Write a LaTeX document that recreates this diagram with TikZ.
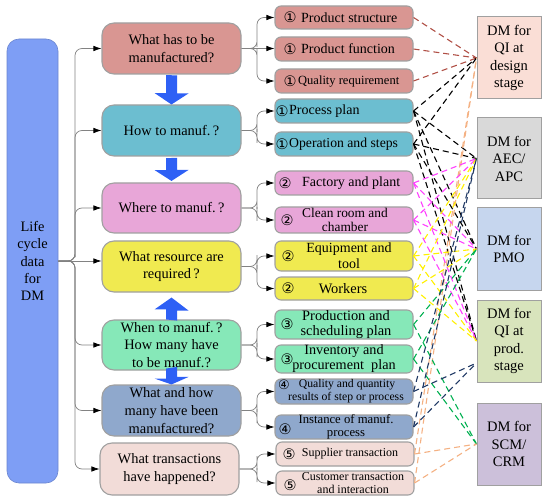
\documentclass[tikz,border=0pt]{standalone}
\usepackage{fontspec}
\setmainfont{Liberation Serif}
\newfontfamily\circf{DejaVu Sans}
\usetikzlibrary{arrows.meta,calc}
\definecolor{qone}{RGB}{217,150,146}
\definecolor{qtwo}{RGB}{108,190,208}
\definecolor{qthree}{RGB}{232,166,216}
\definecolor{qfour}{RGB}{240,234,80}
\definecolor{qfive}{RGB}{134,232,184}
\definecolor{qsix}{RGB}{143,168,204}
\definecolor{qseven}{RGB}{242,220,216}
\definecolor{lifecol}{RGB}{126,158,245}
\definecolor{dmone}{RGB}{250,222,214}
\definecolor{dmtwo}{RGB}{217,217,217}
\definecolor{dmthree}{RGB}{198,214,238}
\definecolor{dmfour}{RGB}{216,228,188}
\definecolor{dmfive}{RGB}{204,192,218}
\definecolor{bigarrow}{RGB}{46,96,245}
\definecolor{boxgray}{RGB}{160,160,160}
\definecolor{treegray}{RGB}{130,130,130}
\definecolor{lbrown}{RGB}{176,80,70}
\definecolor{lmag}{RGB}{255,64,255}
\definecolor{lyel}{RGB}{255,240,0}
\definecolor{lgreen}{RGB}{0,176,80}
\definecolor{lblue}{RGB}{31,56,100}
\definecolor{lpeach}{RGB}{244,177,131}
\begin{document}
\begin{tikzpicture}[x=1pt,y=-1pt,
  qbox/.style={draw=boxgray, line width=1.1pt, rounded corners=12pt, minimum width=139pt, minimum height=51pt, align=center, inner sep=0pt, font=\fontsize{14.4}{17.8}\selectfont},
  ibox/.style={draw=boxgray, line width=1.1pt, rounded corners=6pt, minimum width=138pt, minimum height=24pt, inner sep=0pt},
  dmbox/.style={draw=boxgray, line width=1pt, minimum width=64pt, minimum height=82pt, align=center, inner sep=0pt, font=\fontsize{14.5}{17.5}\selectfont},
  dig/.style={inner sep=0pt, font=\circf\fontsize{14.5}{14.5}\selectfont},
  itxt/.style={inner sep=0pt, align=center},
  tree/.style={draw=treegray, line width=0.7pt, rounded corners=7pt, -{Latex[length=8pt,width=5.5pt,color=black]}},
  dl/.style={dash pattern=on 6pt off 4pt, line width=1.1pt},
  barr/.style={fill=bigarrow}
]
\useasboundingbox (0,0) rectangle (550,503);
% life cycle box
\node[draw=lifecol!85!black, line width=0.6pt, fill=lifecol, rounded corners=12pt, minimum width=51pt, minimum height=444pt, align=center, inner sep=0pt, font=\fontsize{14.4}{17.3}\selectfont] (L) at (32.5,261) {Life\\cycle\\data\\for\\DM};
% question boxes
\node[qbox, fill=qone] (Q1) at (171.5,48.5) {What has to be\\manufactured?};
\node[qbox, fill=qtwo] (Q2) at (171.5,130.5) {How to manuf.\,?};
\node[qbox, fill=qthree, minimum height=50pt] (Q3) at (171.5,208) {Where to manuf.\,?};
\node[qbox, fill=qfour] (Q4) at (171.5,266.5) {What resource are\\required\,?};
\node[qbox, fill=qfive, minimum height=50pt] (Q5) at (171.5,345) {When to manuf.\,?\\How many have\\to be manuf.?};
\node[qbox, fill=qsix] (Q6) at (171.5,410.5) {What and how\\many have been\\manufactured?};
\node[qbox, fill=qseven, minimum height=52pt] (Q7) at (169.5,469) {What transactions\\have happened?};
% big blue arrows
\fill[barr] ($(Q1.south)+(-5.5,0.5)$) -- ++(0,18) -- ++(-11.5,0) -- (Q1.south |- Q2.north) -- ++(17,-11) -- ++(-11.5,0) -- ++(0,-18) -- cycle;
\fill[barr] ($(Q2.south)+(-5.5,1.5)$) -- ++(0,12) -- ++(-11.5,0) -- ($(Q2.south |- Q3.north)+(0,-1.5)$) -- ++(17,-11) -- ++(-11.5,0) -- ++(0,-12) -- cycle;
\fill[barr] ($(Q5.north)+(-5.5,0)$) -- ++(0,-10) -- ++(-11.5,0) -- ($(Q5.north |- Q4.south)+(0,5)$) -- ++(17,13) -- ++(-11.5,0) -- ++(0,10) -- cycle;
\fill[barr] ($(Q5.south)+(-5.5,-2)$) -- ++(0,10) -- ++(-11.5,0) -- ($(Q5.south |- Q6.north)$) -- ++(17,-7.5) -- ++(-11.5,0) -- ++(0,-10) -- cycle;
% items
\node[ibox, fill=qone, minimum height=23pt] (i1) at (344,17.5) {};
\node[dig] at (290,17.5) {①};
\node[itxt, anchor=west, font=\fontsize{14}{16}\selectfont] at (301,17.5) {Product structure};
\node[ibox, fill=qone] (i2) at (344,49) {};
\node[dig] at (290,49) {①};
\node[itxt, anchor=west, font=\fontsize{14}{16}\selectfont] at (301,49) {Product function};
\node[ibox, fill=qone] (i3) at (344,81) {};
\node[dig] at (290,81) {①};
\node[itxt, anchor=west, font=\fontsize{12.5}{14}\selectfont] at (298,81.5) {Quality requirement};
\node[ibox, fill=qtwo] (i4) at (344,111) {};
\node[dig] at (282,111) {①};
\node[itxt, anchor=west, font=\fontsize{14}{16}\selectfont] at (289,111) {Process plan};
\node[ibox, fill=qtwo] (i5) at (344,144) {};
\node[dig] at (282,144) {①};
\node[itxt, anchor=west, font=\fontsize{13.7}{16}\selectfont] at (289,144) {Operation and steps};
\node[ibox, fill=qthree] (i6) at (344,183) {};
\node[dig] at (285,183) {②};
\node[itxt, anchor=west, font=\fontsize{14}{16}\selectfont] at (302,183) {Factory and plant};
\node[ibox, fill=qthree, minimum height=26pt] (i7) at (344,220) {};
\node[dig] at (287,220) {②};
\node[itxt, font=\fontsize{13.4}{13.3}\selectfont] at (345,220) {Clean room and\\chamber};
\node[ibox, fill=qfour, minimum height=30pt] (i8) at (344,256) {};
\node[dig] at (288,256) {②};
\node[itxt, font=\fontsize{14}{16}\selectfont] at (349,255.5) {Equipment and\\tool};
\node[ibox, fill=qfour, minimum height=23pt] (i9) at (344,288.5) {};
\node[dig] at (288,288.5) {②};
\node[itxt, font=\fontsize{14.4}{16}\selectfont] at (343,288.5) {Workers};
\node[ibox, fill=qfive, minimum height=29pt] (i10) at (344,324.5) {};
\node[dig] at (287,324.5) {③};
\node[itxt, font=\fontsize{14.4}{14.3}\selectfont] at (346,324.5) {Production and\\scheduling plan};
\node[ibox, fill=qfive, minimum height=28pt] (i11) at (344,359) {};
\node[dig] at (287,359) {③};
\node[itxt, font=\fontsize{14.2}{15.5}\selectfont] at (344,358.5) {Inventory and\\procurement~~plan};
\node[ibox, fill=qsix, minimum height=25pt] (i12) at (344,391.5) {};
\node[dig, font=\circf\fontsize{13}{13}\selectfont] at (284,385) {④};
\node[itxt, font=\fontsize{11.7}{13.3}\selectfont] at (347,385) {Quality and quantity};
\node[itxt, font=\fontsize{11.7}{13.3}\selectfont] at (346,398) {results of step or process};
\node[ibox, fill=qsix] (i13) at (344,427) {};
\node[dig] at (285,429) {④};
\node[itxt, font=\fontsize{12.7}{12.7}\selectfont] at (346,427) {Instance of manuf.\\process};
\node[ibox, fill=qseven] (i14) at (345,454) {};
\node[dig] at (289,454) {⑤};
\node[itxt, font=\fontsize{12}{14}\selectfont] at (350,454) {Supplier transaction};
\node[ibox, fill=qseven] (i15) at (345,483) {};
\node[dig] at (290,485) {⑤};
\node[itxt, font=\fontsize{12}{12.3}\selectfont] at (353,483) {Customer transaction\\and interaction};
% DM boxes
\node[dmbox, fill=dmone] (D1) at (509,58) {DM for\\QI at\\design\\stage};
\node[dmbox, fill=dmtwo, minimum height=81pt] (D2) at (509,158.5) {DM for\\AEC/\\APC};
\node[dmbox, fill=dmthree] (D3) at (509,249) {DM for\\PMO};
\node[dmbox, fill=dmfour] (D4) at (509,341) {DM for\\QI at\\prod.\\stage};
\node[dmbox, fill=dmfive] (D5) at (509,444) {DM for\\SCM/\\CRM};
\coordinate (D4b) at ($(D4.west)+(0,22)$);
% left tree
\draw[tree] (L.east) -| (75,250) |- (Q1.west);
\draw[tree] (L.east) -| (75,250) |- (Q2.west);
\draw[tree] (L.east) -| (75,250) |- (Q3.west);
\draw[tree] (L.east) -- (L.east -| Q4.west);
\draw[tree] (L.east) -| (75,275) |- (Q5.west);
\draw[tree] (L.east) -| (75,275) |- (Q6.west);
\draw[tree] (L.east) -| (75,275) |- (Q7.west);
% right brackets
\draw[tree] (Q1.east) -| (257,40) |- (i1.west);
\draw[tree] (Q1.east) -- (Q1.east -| i2.west);
\draw[tree] (Q1.east) -| (257,56) |- (i3.west);
\draw[tree] (Q2.east) -| (257,125) |- (i4.west);
\draw[tree] (Q2.east) -| (257,136) |- (i5.west);
\draw[tree] (Q3.east) -| (257,202) |- (i6.west);
\draw[tree] (Q3.east) -| (257,214) |- (i7.west);
\draw[tree] (Q4.east) -| (257,262) |- (i8.west);
\draw[tree] (Q4.east) -| (257,272) |- (i9.west);
\draw[tree] (Q5.east) -| (257,340) |- (i10.west);
\draw[tree] (Q5.east) -| (257,350) |- (i11.west);
\draw[tree] (Q6.east) -| (257,405) |- (i12.west);
\draw[tree] (Q6.east) -| (257,416) |- (i13.west);
\draw[tree] (Q7.east) -| (257,463) |- (i14.west);
\draw[tree] (Q7.east) -| (257,475) |- (i15.west);
% dashed connections
\foreach \i in {i1,i2,i3} \draw[dl, lbrown] (\i.east) -- (D1.west);
\foreach \i in {i4,i5} \foreach \d in {D1,D2,D3,D4} \draw[dl, black] (\i.east) -- (\d.west);
\foreach \i in {i14,i15} \draw[dl, lpeach] (\i.east) -- (D1.west);
\foreach \i in {i6,i7} \foreach \d in {D2,D3,D4} \draw[dl, lmag] (\i.east) -- (\d.west);
\foreach \i in {i8,i9} \foreach \d in {D2,D3,D4} \draw[dl, lyel] (\i.east) -- (\d.west);
\foreach \i in {i10,i11} \foreach \d in {D3,D5} \draw[dl, lgreen] (\i.east) -- (\d.west);
\foreach \i in {i12,i13} \draw[dl, lblue] (\i.east) -- (D2.west);
\foreach \i in {i12,i13} \draw[dl, lblue] (\i.east) -- (D4b);
\foreach \i in {i14,i15} \draw[dl, lpeach] (\i.east) -- (D5.west);
\end{tikzpicture}
\end{document}
